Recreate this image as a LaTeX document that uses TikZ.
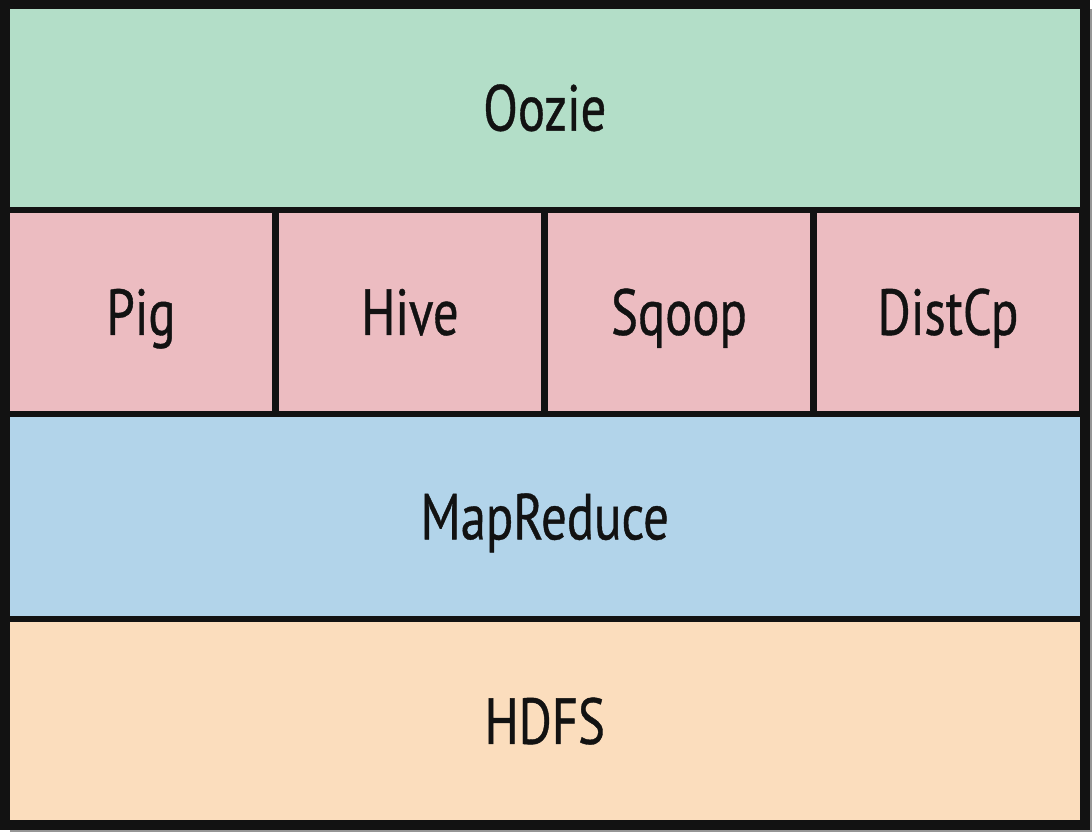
\documentclass[tikz,border=0pt]{standalone}
\usepackage{fontspec}
\setmainfont{PT Sans}[FakeStretch=0.78, FakeBold=0.6]
\usepackage{tikz}
\usetikzlibrary{positioning}
\definecolor{ooziegreen}{RGB}{179, 222, 200}
\definecolor{toolpink}{RGB}{236, 188, 193}
\definecolor{mrblue}{RGB}{178, 212, 234}
\definecolor{hdfspeach}{RGB}{251, 221, 189}
\definecolor{inkblack}{RGB}{18, 18, 18}
\definecolor{shadowgray}{RGB}{150, 150, 150}

\begin{document}
\begin{tikzpicture}[x=0.02cm, y=-0.02cm,
  layer/.style={draw=inkblack, line width=3.4pt, inner sep=0pt, minimum height=4.09cm,
    text height=26pt, text depth=0pt,
    font=\fontsize{37}{40}\selectfont, text=inkblack}]
  \useasboundingbox (0, 0) rectangle (1092, 832);
  \fill[white] (0, 0) rectangle (1092, 832);
  % drop shadow
  \fill[shadowgray] (10, 9) rectangle (1092, 832);

  % Workflow layer
  \node[layer, fill=ooziegreen, minimum width=21.53cm] (oozie) at (544.75, 107.75) {Oozie};

  % Tools row
  \node[layer, fill=toolpink, minimum width=5.38cm] (pig) at (141, 312) {Pig};
  \node[layer, fill=toolpink, minimum width=5.38cm] (hive) at (410, 312) {Hive};
  \node[layer, fill=toolpink, minimum width=5.38cm] (sqoop) at (679, 312) {Sqoop};
  \node[layer, fill=toolpink, minimum width=5.38cm] (distcp) at (948, 312) {DistCp};

  % Processing layer
  \node[layer, fill=mrblue, minimum width=21.53cm] (mapreduce) at (544.75, 516.5) {MapReduce};

  % Storage layer
  \node[layer, fill=hdfspeach, minimum width=21.53cm] (hdfs) at (544.75, 721) {HDFS};

  % Outer frame
  \draw[inkblack, line width=4.4pt] (oozie.north west) rectangle (hdfs.south east);
\end{tikzpicture}
\end{document}
